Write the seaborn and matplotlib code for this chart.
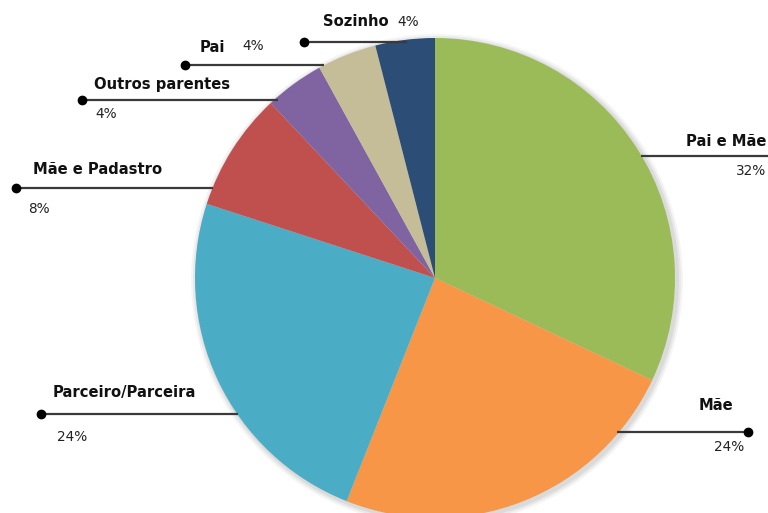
import matplotlib
matplotlib.use("Agg")
import matplotlib.pyplot as plt
import seaborn as sns

# Living arrangement shares (percent)
categories = ["Pai e Mãe", "Mãe", "Parceiro/Parceira", "Mãe e Padastro",
              "Outros parentes", "Pai", "Sozinho"]
shares = [32, 24, 24, 8, 4, 4, 4]
pct_labels = ["32%", "24%", "24%", "8%", "4%", "4%", "4%"]
colors = ["#9BBB59", "#F79646", "#4BACC6", "#C0504D",
          "#8064A2", "#C4BD97", "#2C4D75"]

sns.set_theme(style="white")
plt.rcParams["font.family"] = ["DejaVu Sans"]

W, H = 768, 513
fig = plt.figure(figsize=(W / 100, H / 100), dpi=100)
ax = fig.add_axes([0, 0, 1, 1])
ax.set_xlim(0, W)
ax.set_ylim(0, H)
ax.set_aspect("equal")
ax.axis("off")

cx, cy, r = 435, H - 278, 240

# soft shadow around the pie
for k, a in enumerate([0.04, 0.05, 0.06]):
    ax.add_patch(plt.Circle((cx + 2, cy - 2), r + 6 - 2 * k,
                            color="black", alpha=a, lw=0, zorder=0))

ax.pie(shares, colors=colors, startangle=90, counterclock=False,
       center=(cx, cy), radius=r, frame=True,
       wedgeprops=dict(linewidth=0))
ax.set_xlim(0, W)
ax.set_ylim(0, H)
ax.axis("off")

# leader-line layout: line y, dot x, line span, name anchor, pct anchor, alignment
layout = {
    "Pai e Mãe": dict(y=156, dot=None, x0=641, x1=768, name=(766, 142), pct=(766, 171), ha="right"),
    "Mãe": dict(y=432, dot=748, x0=617, x1=748, name=(733, 406), pct=(744, 447), ha="right"),
    "Parceiro/Parceira": dict(y=414, dot=41, x0=41, x1=238, name=(53, 392), pct=(57, 437), ha="left"),
    "Mãe e Padastro": dict(y=188, dot=16, x0=16, x1=213, name=(33, 170), pct=(28, 209), ha="left"),
    "Outros parentes": dict(y=100, dot=82, x0=82, x1=278, name=(94, 84), pct=(95, 114), ha="left"),
    "Pai": dict(y=65, dot=185, x0=185, x1=324, name=(200, 47), pct=(242, 46), ha="left"),
    "Sozinho": dict(y=42, dot=304, x0=304, x1=407, name=(323, 22), pct=(397, 22), ha="left"),
}

for cat, pct in zip(categories, pct_labels):
    L = layout[cat]
    y = H - L["y"]
    ax.plot([L["x0"], L["x1"]], [y, y], color="#3a3a3a", lw=1.6,
            solid_capstyle="butt", zorder=5)
    if L["dot"] is not None:
        ax.plot(L["dot"], y, "o", color="black", ms=6, zorder=6)
    ax.text(L["name"][0], H - L["name"][1], cat, fontsize=10.6,
            fontweight="bold", color="#111111", ha=L["ha"], va="center")
    ax.text(L["pct"][0], H - L["pct"][1], pct, fontsize=9.8,
            color="#222222", ha=L["ha"], va="center")

fig.savefig("out.png", dpi=100, facecolor="white")
